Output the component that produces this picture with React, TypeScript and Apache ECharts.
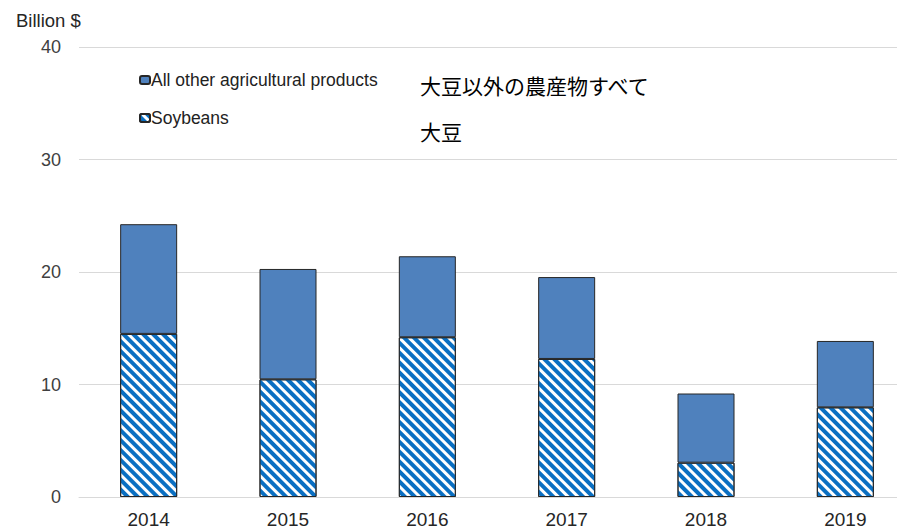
import React, { useEffect, useRef } from "react";
import * as echarts from "echarts";

const years = ["2014", "2015", "2016", "2017", "2018", "2019"];
const soybeans = [14.5, 10.46, 14.2, 12.27, 3.05, 7.97];
const otherProducts = [9.75, 9.81, 7.2, 7.28, 6.15, 5.9];
const yTicks = { min: 0, max: 40, interval: 10 };
const legendNames = ["All other agricultural products", "Soybeans"];
const jpLabels = ["大豆以外の農産物すべて", "大豆"];

const FONT = "Liberation Sans, Arial, sans-serif";

export default function App() {
  const ref = useRef<HTMLDivElement>(null);
  useEffect(() => {
    if (!ref.current) return;
    const chart = echarts.init(ref.current, undefined, { renderer: "svg" });
    chart.setOption({
      animation: false,
      backgroundColor: "#ffffff",
      textStyle: { fontFamily: FONT },
      grid: { left: 79, top: 47, bottom: 32, right: 15, containLabel: false },
      legend: {
        data: [legendNames[0], legendNames[1]],
        orient: "vertical",
        left: 134,
        top: 66,
        itemWidth: 10,
        itemHeight: 8,
        itemGap: 20,
        textStyle: { fontSize: 17.5, color: "#222", padding: [0, 0, 0, -4] },
      },
      xAxis: {
        type: "category",
        data: years,
        axisLine: { lineStyle: { color: "#d9d9d9", width: 1 } },
        axisTick: { show: false },
        axisLabel: { fontSize: 19, color: "#262626", margin: 13 },
      },
      yAxis: {
        type: "value",
        min: yTicks.min,
        max: yTicks.max,
        interval: yTicks.interval,
        axisLine: { show: false },
        axisTick: { show: false },
        axisLabel: { fontSize: 18, color: "#404040", margin: 18 },
        splitLine: { lineStyle: { color: "#d9d9d9", width: 1 } },
      },
      graphic: [
        {
          type: "text",
          left: 16,
          top: 11,
          style: { text: "Billion $", fontSize: 18.5, fill: "#262626", fontFamily: FONT },
        },
        {
          type: "text",
          left: 420,
          top: 74,
          style: { text: jpLabels[0], fontSize: 21, fill: "#000", fontFamily: "Noto Sans CJK JP" },
        },
        {
          type: "text",
          left: 420,
          top: 120,
          style: { text: jpLabels[1], fontSize: 21, fill: "#000", fontFamily: "Noto Sans CJK JP" },
        },
      ],
      series: [
        {
          name: legendNames[1],
          type: "bar",
          stack: "total",
          data: soybeans,
          barWidth: 57,
          itemStyle: {
            color: "#ffffff",
            borderColor: "#262626",
            borderWidth: 1,
            decal: {
              symbol: "rect",
              symbolSize: 1,
              dashArrayX: [1, 0],
              dashArrayY: [3.5, 3],
              rotation: Math.PI / 4,
              color: "#0a6fc2",
              backgroundColor: "#ffffff",
            },
          },
        },
        {
          name: legendNames[0],
          type: "bar",
          stack: "total",
          data: otherProducts,
          barWidth: 57,
          itemStyle: { color: "#4f81bd", borderColor: "#262626", borderWidth: 1 },
        },
      ],
    });
    return () => chart.dispose();
  }, []);
  return (
    <div style={{ position: "absolute", left: 0, top: 0, width: 897, height: 529, overflow: "hidden" }}>
      <div ref={ref} style={{ position: "absolute", left: 0, top: 0, width: 930, height: 529 }} />
    </div>
  );
}
